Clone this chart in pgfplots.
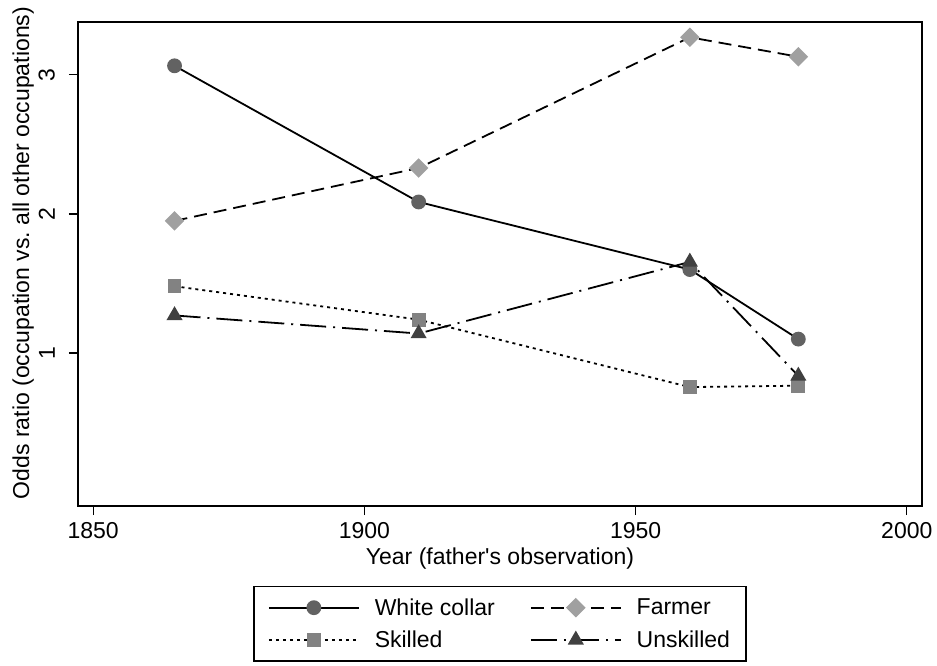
\documentclass[border=0pt]{standalone}
\usepackage{fontspec}
\setmainfont{Liberation Sans}
\usepackage{pgfplots}
\pgfplotsset{compat=1.18}
\definecolor{mwc}{HTML}{626262}
\definecolor{mfa}{HTML}{A0A0A0}
\definecolor{msk}{HTML}{828282}
\definecolor{mun}{HTML}{404040}
\newcommand{\fs}{\fontsize{23}{27}\selectfont}
\begin{document}
\begin{tikzpicture}
\begin{axis}[
  scale only axis, width=844pt, height=484pt,
  xmin=1847.2, xmax=2002.8, ymin=-0.1, ymax=3.38,
  xtick={1850,1900,1950,2000}, ytick={1,2,3},
  tick align=outside, major tick length=9pt,
  tick style={black, line width=1.2pt},
  axis line style={line width=1.4pt},
  xtick pos=bottom, ytick pos=left,
  /pgf/number format/assume math mode=true,
  /pgf/number format/1000 sep={},
  xticklabel style={font=\fs, inner sep=0pt, anchor=north},
  xticklabel shift=7pt,
  yticklabel style={font=\fs, inner sep=0pt, rotate=90, anchor=south},
  yticklabel shift=14pt,
  xlabel={Year (father\textquotesingle s observation)},
  ylabel={Odds ratio (occupation vs.\ all other occupations)},
  every axis x label/.style={at={(axis description cs:0.5,-0.0868)}, anchor=north, inner sep=0pt, font=\fs},
  every axis y label/.style={at={(axis description cs:-0.0521,0.5227)}, rotate=90, anchor=south, inner sep=0pt, font=\fs},
  legend columns=2,
  legend style={at={(axis description cs:0.5,0)}, anchor=north, yshift=-80pt,
    font=\fs, draw=black, line width=1.2pt, inner xsep=14pt, inner ysep=10pt,
    row sep=10pt,
    /tikz/every odd column/.append style={column sep=13pt},
    /tikz/every even column/.append style={column sep=33pt},
    cells={anchor=west}},
  legend image code/.code={\draw[mark repeat=2, mark phase=2] plot coordinates {(0pt,0pt) (45pt,0pt) (90pt,0pt)};},
]
\addplot[black, line width=1.8pt, mark=*, mark size=6.5pt, mark options={solid, draw=mwc, fill=mwc}]
  coordinates {(1865,3.065) (1910,2.086) (1960,1.60) (1980,1.10)};
\addlegendentry{White collar}
\addplot[black, line width=1.8pt, dash pattern=on 13pt off 7pt, mark=square*, mark size=6pt, mark options={solid, rotate=45, draw=mfa, fill=mfa}]
  coordinates {(1865,1.95) (1910,2.33) (1960,3.27) (1980,3.13)};
\addlegendentry{Farmer}
\addplot[black, line width=1.8pt, dash pattern=on 3pt off 4pt, mark=square*, mark size=6pt, mark options={solid, draw=msk, fill=msk}]
  coordinates {(1865,1.48) (1910,1.24) (1960,0.755) (1980,0.765)};
\addlegendentry{Skilled}
\addplot[black, line width=1.8pt, dash pattern=on 26pt off 7pt on 2pt off 7pt, mark=triangle*, mark size=7.5pt, mark options={solid, draw=mun, fill=mun}]
  coordinates {(1865,1.27) (1910,1.14) (1960,1.655) (1980,0.835)};
\addlegendentry{Unskilled}
\end{axis}
\pgfresetboundingbox
\path (current axis.south west) ++(-78pt,-160pt) rectangle ++(937pt,666pt);
\end{tikzpicture}
\end{document}
